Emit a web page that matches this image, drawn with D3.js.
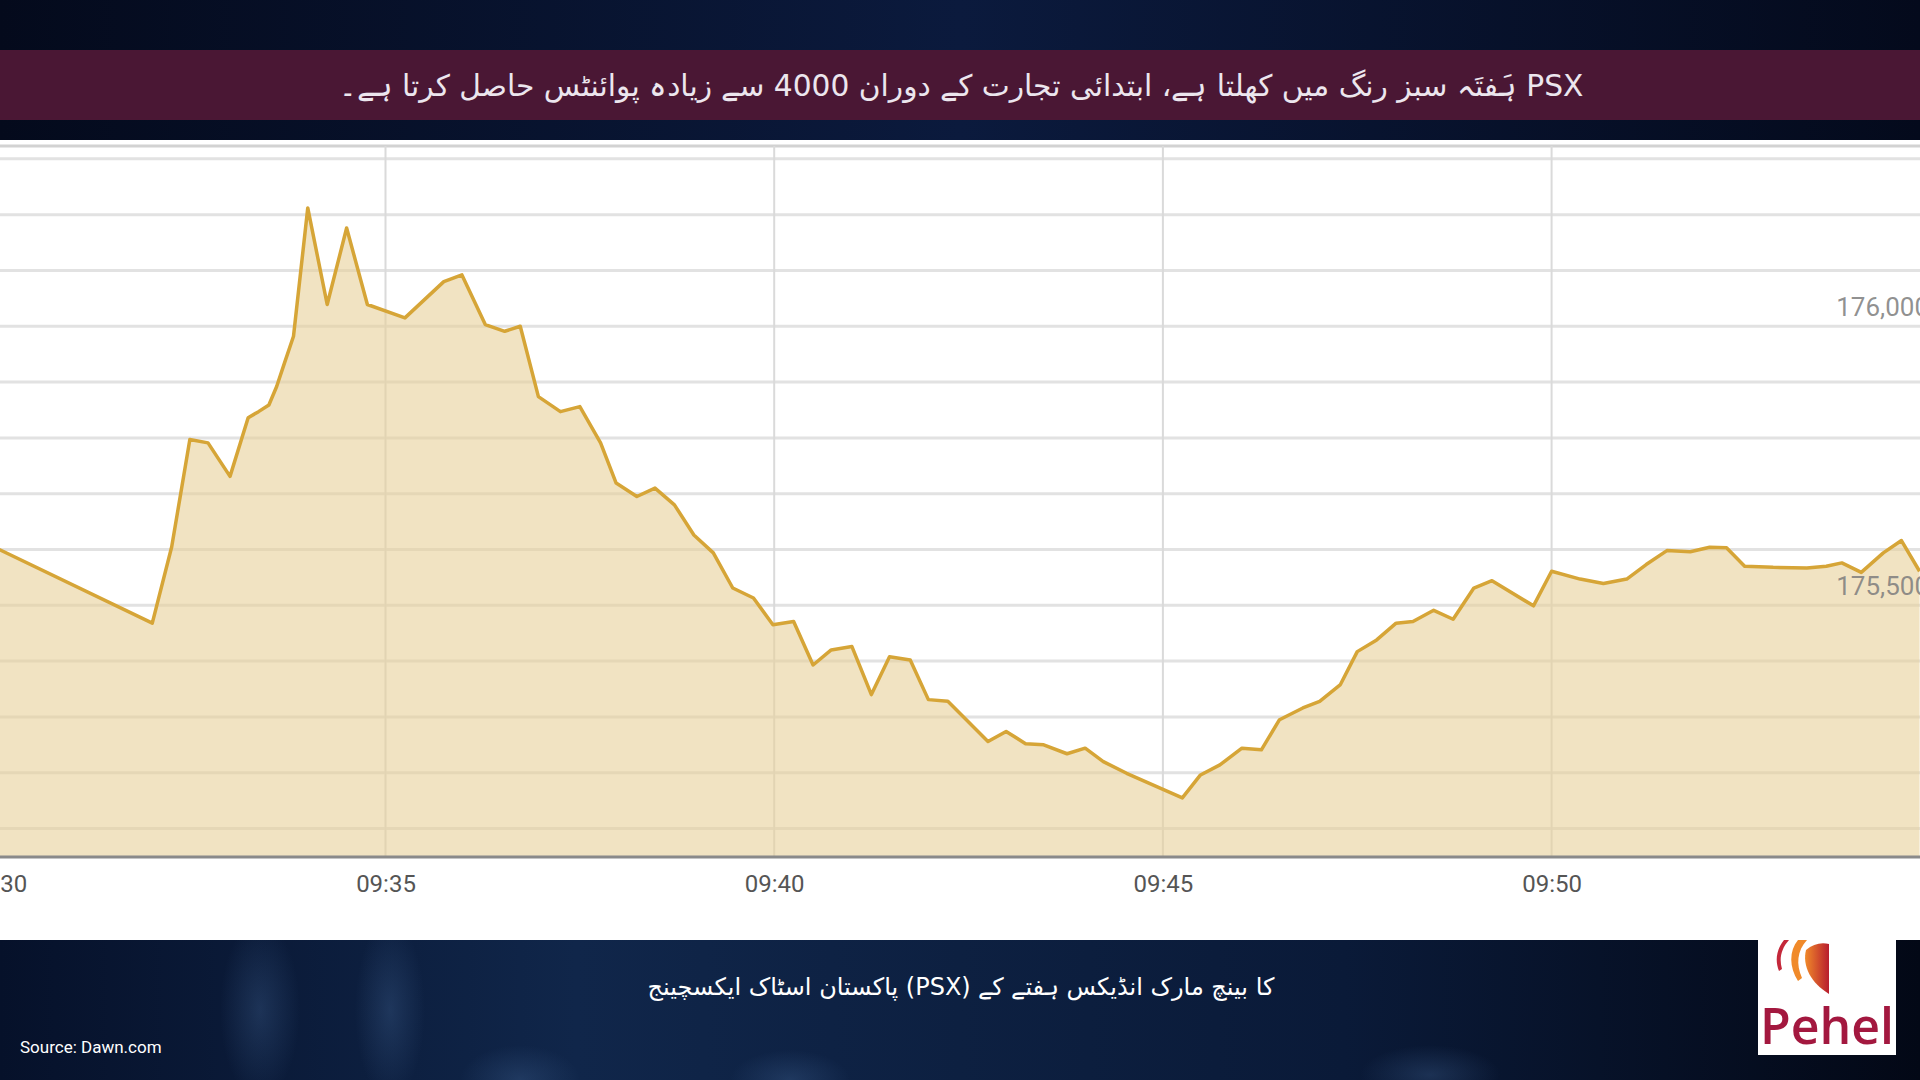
<!DOCTYPE html>
<html>
<head>
<meta charset="utf-8">
<script src="https://cdn.jsdelivr.net/npm/d3@7"></script>
<style>
  html, body { margin: 0; padding: 0; background: #07122b; overflow: hidden; }
</style>
</head>
<body>
<div id="chart"></div>
<script>
// KSE-100 intraday readings (time, index level)
const times = [
  "09:30:00", "09:32:00", "09:32:15", "09:32:29", "09:32:43", "09:33:00", "09:33:14", "09:33:22",
  "09:33:30", "09:33:36", "09:33:42", "09:33:49", "09:34:00", "09:34:15", "09:34:30", "09:34:46",
  "09:35:15", "09:35:45", "09:35:59", "09:36:17", "09:36:32", "09:36:44", "09:36:58", "09:37:15",
  "09:37:30", "09:37:46", "09:37:58", "09:38:14", "09:38:28", "09:38:43", "09:38:58", "09:39:13",
  "09:39:28", "09:39:44", "09:39:59", "09:40:15", "09:40:30", "09:40:44", "09:41:00", "09:41:15",
  "09:41:29", "09:41:45", "09:41:59", "09:42:14", "09:42:45", "09:42:59", "09:43:14", "09:43:28",
  "09:43:46", "09:44:00", "09:44:14", "09:44:32", "09:45:15", "09:45:29", "09:45:44", "09:46:01",
  "09:46:16", "09:46:30", "09:46:48", "09:47:01", "09:47:17", "09:47:30", "09:47:45", "09:48:00",
  "09:48:13", "09:48:29", "09:48:44", "09:49:00", "09:49:14", "09:49:46", "09:50:00", "09:50:22",
  "09:50:40", "09:50:58", "09:51:13", "09:51:29", "09:51:47", "09:52:02", "09:52:15", "09:52:29",
  "09:52:51", "09:53:17", "09:53:32", "09:53:44", "09:53:59", "09:54:16", "09:54:30", "09:54:44"
];
const values = [
  175602, 175468, 175605, 175797, 175791, 175731, 175836, 175847,
  175859, 175892, 175934, 175982, 176212, 176039, 176176, 176039,
  176015, 176080, 176092, 176003, 175991, 176000, 175874, 175847,
  175856, 175791, 175719, 175695, 175710, 175680, 175626, 175594,
  175531, 175513, 175465, 175471, 175393, 175420, 175426, 175340,
  175408, 175402, 175331, 175328, 175256, 175274, 175252, 175250,
  175234, 175244, 175220, 175199, 175155, 175196, 175214, 175244,
  175241, 175295, 175316, 175328, 175358, 175417, 175438, 175468,
  175471, 175491, 175475, 175531, 175544, 175499, 175561, 175547,
  175539, 175547, 175573, 175598, 175596, 175604, 175603, 175570,
  175568, 175567, 175570, 175576, 175559, 175594, 175616, 175561
];

const xTickLabels = ["09:30", "09:35", "09:40", "09:45", "09:50"];
const yGridValues = [175100, 175200, 175300, 175400, 175500, 175600, 175700, 175800, 175900, 176000, 176100, 176200, 176300];
const yLabelValues = [175500, 176000];

const title = "PSX ہَفتَہ سبز رنگ میں کھلتا ہے، ابتدائی تجارت کے دوران 4000 سے زیادہ پوائنٹس حاصل کرتا ہے۔";
const subtitle = "کا بینچ مارک انڈیکس ہفتے کے (PSX) پاکستان اسٹاک ایکسچینج";
const source = "Source: Dawn.com";

const width = 1920;
const height = 1080;
const plotTop = 146, plotBottom = 857;

const parseTime = d3.timeParse("%H:%M");
const parseFull = d3.timeParse("%H:%M:%S");
const data = times.map((t, i) => ({ t: parseFull(t), v: values[i] }));

const svg = d3.select("#chart")
  .append("svg")
  .attr("width", width)
  .attr("height", height);

const defs = svg.append("defs");

// background gradients
const bgTop = defs.append("linearGradient").attr("id", "bgTop").attr("x1", 0).attr("x2", 1);
bgTop.append("stop").attr("offset", "0%").attr("stop-color", "#040a1c");
bgTop.append("stop").attr("offset", "50%").attr("stop-color", "#0b1a3d");
bgTop.append("stop").attr("offset", "100%").attr("stop-color", "#040a1c");

const bgBottom = defs.append("linearGradient").attr("id", "bgBottom").attr("x1", 0).attr("x2", 1);
bgBottom.append("stop").attr("offset", "0%").attr("stop-color", "#06112a");
bgBottom.append("stop").attr("offset", "30%").attr("stop-color", "#10264a");
bgBottom.append("stop").attr("offset", "70%").attr("stop-color", "#0a1a38");
bgBottom.append("stop").attr("offset", "100%").attr("stop-color", "#030816");

const glow = defs.append("radialGradient").attr("id", "glow");
glow.append("stop").attr("offset", "0%").attr("stop-color", "#3f6190").attr("stop-opacity", 0.35);
glow.append("stop").attr("offset", "100%").attr("stop-color", "#3f6190").attr("stop-opacity", 0);

const logoGrad = defs.append("linearGradient").attr("id", "logoGrad").attr("x1", 0).attr("x2", 1);
logoGrad.append("stop").attr("offset", "0%").attr("stop-color", "#f08a2a");
logoGrad.append("stop").attr("offset", "100%").attr("stop-color", "#b81d2e");

defs.append("clipPath").attr("id", "plotClip")
  .append("rect")
  .attr("x", 0).attr("y", plotTop)
  .attr("width", width).attr("height", plotBottom - plotTop);

svg.append("rect").attr("width", width).attr("height", height).attr("fill", "url(#bgTop)");
svg.append("rect").attr("y", 940).attr("width", width).attr("height", 140).attr("fill", "url(#bgBottom)");

// soft streaks and bokeh in the lower band
const blobs = [[260, 1010, 40, 90], [390, 1010, 35, 90], [520, 1080, 60, 35], [790, 1080, 60, 30], [1430, 1075, 70, 30]];
svg.append("g").selectAll("ellipse")
  .data(blobs)
  .join("ellipse")
  .attr("cx", d => d[0]).attr("cy", d => d[1])
  .attr("rx", d => d[2]).attr("ry", d => d[3])
  .attr("fill", "url(#glow)");

// title banner
svg.append("rect").attr("y", 50).attr("width", width).attr("height", 70).attr("fill", "#4a1734");
svg.append("text")
  .attr("x", 961).attr("y", 87)
  .attr("direction", "rtl")
  .attr("text-anchor", "middle")
  .attr("dominant-baseline", "middle")
  .attr("font-family", "'DejaVu Sans', sans-serif")
  .attr("font-size", 29.7)
  .attr("fill", "#ece6ee")
  .text(title);

// chart panel
svg.append("rect").attr("y", 140).attr("width", width).attr("height", 800).attr("fill", "#ffffff");
svg.append("line")
  .attr("x1", 0).attr("x2", width).attr("y1", plotTop).attr("y2", plotTop)
  .attr("stroke", "#d2d2d2").attr("stroke-width", 3);

const x = d3.scaleTime()
  .domain([parseTime("09:30"), parseTime("09:55")])
  .range([-3.2, 1940.3]);

const y = d3.scaleLinear()
  .domain([175049, 176323])
  .range([plotBottom, plotTop]);

// gridlines
svg.append("g").selectAll("line")
  .data(yGridValues)
  .join("line")
  .attr("x1", 0).attr("x2", width)
  .attr("y1", d => y(d)).attr("y2", d => y(d))
  .attr("stroke", "#e2e2e2").attr("stroke-width", 3);

svg.append("g").selectAll("line")
  .data(xTickLabels)
  .join("line")
  .attr("x1", d => x(parseTime(d))).attr("x2", d => x(parseTime(d)))
  .attr("y1", plotTop).attr("y2", plotBottom)
  .attr("stroke", "#dadada").attr("stroke-width", 2);

// area + line
const area = d3.area()
  .x(d => x(d.t))
  .y0(plotBottom)
  .y1(d => y(d.v));

const line = d3.line()
  .x(d => x(d.t))
  .y(d => y(d.v));

const series = svg.append("g").attr("clip-path", "url(#plotClip)");
series.append("path")
  .datum(data)
  .attr("d", area)
  .attr("fill", "#e8d09a")
  .attr("fill-opacity", 0.6);
series.append("path")
  .datum(data)
  .attr("d", line)
  .attr("fill", "none")
  .attr("stroke", "#d6a537")
  .attr("stroke-width", 3.5)
  .attr("stroke-linejoin", "round");

// x axis line
svg.append("line")
  .attr("x1", 0).attr("x2", width).attr("y1", plotBottom).attr("y2", plotBottom)
  .attr("stroke", "#8a8a8a").attr("stroke-width", 3);

// x axis labels
svg.append("g")
  .attr("transform", `translate(0,${plotBottom})`)
  .call(d3.axisBottom(x)
    .tickValues(xTickLabels.map(parseTime))
    .tickFormat(d3.timeFormat("%H:%M"))
    .tickSize(0)
    .tickPadding(18))
  .call(g => g.select(".domain").remove())
  .call(g => g.selectAll("text")
    .attr("font-family", "Roboto, Arial, sans-serif")
    .attr("font-size", 24)
    .attr("fill", "#555"));

// y labels on the right
svg.append("g").selectAll("text")
  .data(yLabelValues)
  .join("text")
  .attr("x", 1929)
  .attr("y", d => y(d) - 10)
  .attr("text-anchor", "end")
  .attr("font-family", "Roboto, Arial, sans-serif")
  .attr("font-size", 26)
  .attr("fill", "#7d7d7d")
  .attr("fill-opacity", 0.85)
  .text(d3.format(","));

// subtitle and source
svg.append("text")
  .attr("x", 961).attr("y", 988)
  .attr("direction", "rtl")
  .attr("text-anchor", "middle")
  .attr("dominant-baseline", "middle")
  .attr("font-family", "'DejaVu Sans', sans-serif")
  .attr("font-size", 24)
  .attr("fill", "#ffffff")
  .text(subtitle);

svg.append("text")
  .attr("x", 20).attr("y", 1053)
  .attr("font-family", "Roboto, Arial, sans-serif")
  .attr("font-size", 17)
  .attr("fill", "#ffffff")
  .text(source);

// Pehel logo
const logo = svg.append("g");
logo.append("rect").attr("x", 1758).attr("y", 940).attr("width", 138).attr("height", 115).attr("fill", "#ffffff");
logo.append("path")
  .attr("d", "M1829,944 L1829,994 C1811,983 1802,966 1806,950 C1813,944 1821,942 1829,944 Z")
  .attr("fill", "url(#logoGrad)");
logo.append("path")
  .attr("d", "M1798,940 C1789,951 1789,967 1798,981 L1802,978 C1796,964 1797,951 1807,940 Z")
  .attr("fill", "#f08a2a");
logo.append("path")
  .attr("d", "M1784,940 C1776,950 1775,961 1779,971 L1782,969 C1779,959 1781,949 1789,940 Z")
  .attr("fill", "#c4283a");
logo.append("text")
  .attr("x", 1827).attr("y", 1044)
  .attr("text-anchor", "middle")
  .attr("font-family", "'Open Sans', 'Noto Sans', sans-serif")
  .attr("font-size", 50)
  .attr("font-weight", 600)
  .attr("fill", "#a3183f")
  .text("Pehel");
</script>
</body>
</html>
